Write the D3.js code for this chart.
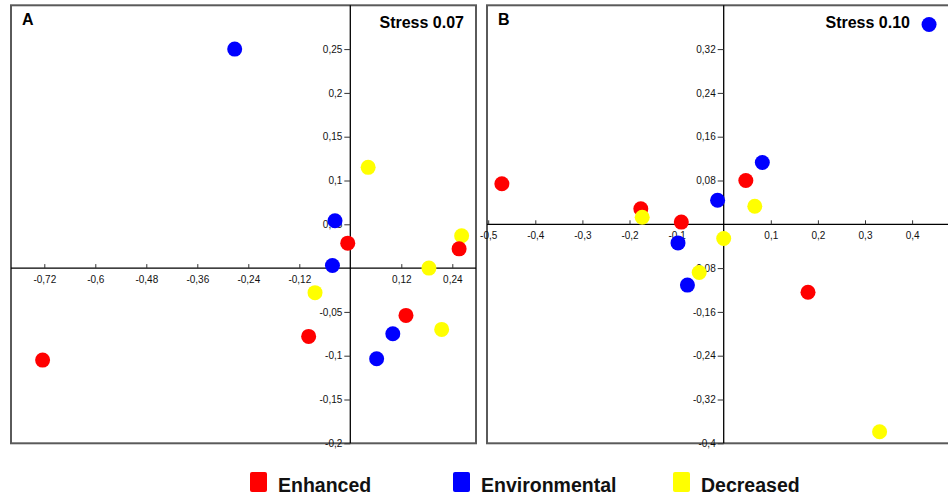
<!DOCTYPE html>
<html>
<head>
<meta charset="utf-8">
<script src="https://cdn.jsdelivr.net/npm/d3@7"></script>
<style>
  body { margin: 0; background: #fff; }
  svg { display: block; font-family: "Liberation Sans", Arial, sans-serif; }
</style>
</head>
<body>
<div id="vis-holder"></div>
<script>
// Groups and colours
const groups = ["Enhanced", "Environmental", "Decreased"];
const groupColors = ["#ff0000", "#0000ff", "#ffff00"];

// Panel A (stress 0.07) - NMDS coordinates
const aGroup = ["Environmental", "Decreased", "Environmental", "Decreased", "Enhanced",
                "Enhanced", "Environmental", "Decreased", "Decreased", "Enhanced",
                "Decreased", "Environmental", "Enhanced", "Environmental", "Enhanced"];
const aX = [-0.272, 0.042, -0.036, 0.262, -0.006, 0.256, -0.042, 0.185, -0.083, 0.131,
            0.215, 0.100, -0.098, 0.062, -0.724];
const aY = [0.250, 0.115, 0.054, 0.037, 0.0285, 0.022, 0.003, 0.000, -0.028, -0.054,
            -0.070, -0.075, -0.078, -0.1035, -0.105];
const aXTicks = [-0.72, -0.6, -0.48, -0.36, -0.24, -0.12, 0.12, 0.24];
const aYTicks = [0.25, 0.2, 0.15, 0.1, 0.05, -0.05, -0.1, -0.15, -0.2];

// Panel B (stress 0.10)
const bGroup = ["Environmental", "Environmental", "Enhanced", "Enhanced", "Environmental",
                "Decreased", "Enhanced", "Decreased", "Enhanced", "Environmental",
                "Decreased", "Decreased", "Environmental", "Enhanced", "Decreased"];
const bX = [0.436, 0.082, 0.047, -0.471, -0.013, 0.066, -0.176, -0.173, -0.090, -0.097,
            0.000, -0.052, -0.077, 0.179, 0.331];
const bY = [0.365, 0.113, 0.080, 0.074, 0.044, 0.033, 0.0285, 0.013, 0.004, -0.034,
            -0.026, -0.088, -0.111, -0.124, -0.379];
const bXTicks = [-0.5, -0.4, -0.3, -0.2, -0.1, 0.1, 0.2, 0.3, 0.4];
const bYTicks = [0.32, 0.24, 0.16, 0.08, -0.08, -0.16, -0.24, -0.32, -0.4];

const width = 948;
const height = 498;

const color = d3.scaleOrdinal().domain(groups).range(groupColors);
const fmt = (d) => String(d).replace(".", ",");

const svg = d3.select("#vis-holder")
              .append("svg")
              .attr("width", width)
              .attr("height", height);

// Draws one NMDS panel
function drawPanel(p) {
  const x = d3.scaleLinear().domain(p.xDomain).range(p.xRange);
  const y = d3.scaleLinear().domain(p.yDomain).range(p.yRange);
  const g = svg.append("g");

  // frame
  g.append("rect")
   .attr("x", p.frame[0]).attr("y", p.frame[1])
   .attr("width", p.frame[2]).attr("height", p.frame[3])
   .attr("fill", "none").attr("stroke", "#5a5a5a").attr("stroke-width", 2);

  // x axis through y = 0
  g.append("g")
   .attr("transform", `translate(0,${y(0)})`)
   .call(d3.axisBottom(x).tickValues(p.xTicks).tickFormat(fmt)
           .tickSizeInner(-4).tickSizeOuter(0).tickPadding(8))
   .call((a) => a.select(".domain").attr("d", `M${p.frame[0]},0H${p.frame[0] + p.frame[2]}`))
   .call((a) => a.selectAll("text").attr("font-size", "10px").attr("fill", "#111")
                 .attr("font-family", "Arial, 'Liberation Sans', sans-serif"));

  // y axis through x = 0
  g.append("g")
   .attr("transform", `translate(${x(0)},0)`)
   .call(d3.axisLeft(y).tickValues(p.yTicks).tickFormat(fmt)
           .tickSizeInner(6).tickSizeOuter(0).tickPadding(2))
   .call((a) => a.select(".domain").attr("d", `M0,${p.frame[1]}V${p.frame[1] + p.frame[3]}`))
   .call((a) => a.selectAll("text").attr("font-size", "10px").attr("fill", "#111")
                 .attr("font-family", "Arial, 'Liberation Sans', sans-serif"));

  g.selectAll(".domain").attr("stroke", "#000").attr("stroke-width", 1.3);
  g.selectAll(".tick line").attr("stroke", "#333");

  // points
  g.selectAll("circle")
   .data(p.xs.map((v, i) => ({ x: v, y: p.ys[i], group: p.groups[i] })))
   .enter()
   .append("circle")
   .attr("cx", (d) => x(d.x))
   .attr("cy", (d) => y(d.y))
   .attr("r", 7.5)
   .attr("fill", (d) => color(d.group));

  // panel letter and stress value
  g.append("text")
   .attr("x", p.frame[0] + 11).attr("y", 24.5)
   .attr("font-size", "16px").attr("font-weight", "bold")
   .text(p.letter);

  g.append("text")
   .attr("x", p.stressX).attr("y", 27.5)
   .attr("text-anchor", "end")
   .attr("font-size", "16px").attr("font-weight", "bold")
   .text(p.stress);
}

drawPanel({
  letter: "A", stress: "Stress 0.07", stressX: 464,
  frame: [11, 5.3, 465, 438],
  xDomain: [-0.8, 0.3], xRange: [10.3, 477.8],
  yDomain: [-0.2, 0.3], yRange: [443.3, 5.3],
  xTicks: aXTicks, yTicks: aYTicks,
  xs: aX, ys: aY, groups: aGroup
});

drawPanel({
  letter: "B", stress: "Stress 0.10", stressX: 910,
  frame: [487, 5.3, 475, 438],
  xDomain: [-0.5, 0.5], xRange: [488.2, 959.2],
  yDomain: [-0.4, 0.4], yRange: [443.3, 5.3],
  xTicks: bXTicks, yTicks: bYTicks,
  xs: bX, ys: bY, groups: bGroup
});

// Legend
const legendX = [250, 453, 673];
const legend = svg.append("g")
  .selectAll("g")
  .data(groups)
  .enter()
  .append("g")
  .attr("transform", (d, i) => `translate(${legendX[i]},472)`);

legend.append("rect")
  .attr("width", 17).attr("height", 20)
  .attr("rx", 2)
  .attr("fill", (d) => color(d));

legend.append("text")
  .attr("x", 28).attr("y", 19.5)
  .attr("font-size", "19.5px").attr("font-weight", "bold")
  .attr("fill", "#111")
  .text((d) => d);
</script>
</body>
</html>
